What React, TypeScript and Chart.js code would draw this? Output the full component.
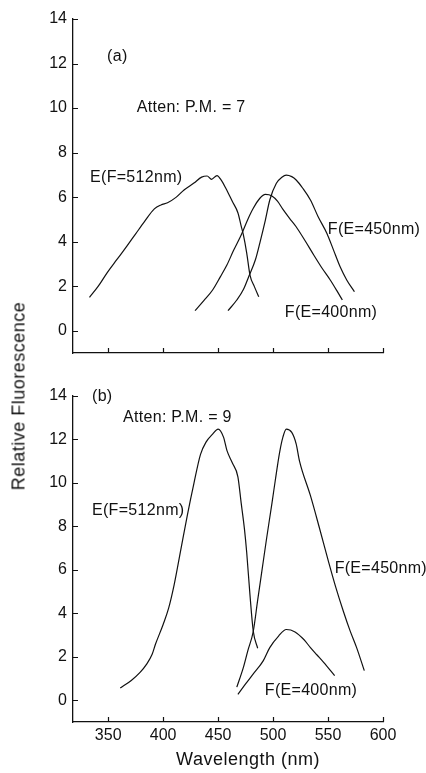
import React, { useEffect, useRef } from "react";
import { Chart, registerables } from "chart.js";
Chart.register(...registerables);

// ---------- Axis ticks ----------
const X_TICKS = [350, 400, 450, 500, 550, 600];
const Y_TICKS = [0, 2, 4, 6, 8, 10, 12, 14];

// ---------- Panel (a) ----------
const A_E512_NM = [333, 341, 349, 358, 367, 375, 383, 392, 398, 404, 412, 419, 428, 435, 440, 444, 449, 453, 457, 463, 468, 471, 473, 476, 479, 483, 487];
const A_E512_VAL = [1.5, 2.0, 2.6, 3.2, 3.8, 4.35, 4.9, 5.47, 5.65, 5.75, 6.0, 6.32, 6.63, 6.9, 6.95, 6.8, 6.97, 6.75, 6.4, 5.8, 5.3, 4.7, 4.3, 3.5, 2.5, 1.98, 1.53];

const A_F400_NM = [429, 437, 445, 452, 458, 464, 471, 477, 482, 488, 493, 499, 504, 509, 515, 521, 529, 537, 544, 552, 558, 563];
const A_F400_VAL = [0.9, 1.35, 1.83, 2.42, 2.95, 3.6, 4.3, 5.0, 5.5, 5.95, 6.12, 6.05, 5.82, 5.45, 5.05, 4.67, 4.05, 3.4, 2.85, 2.28, 1.8, 1.38];

const A_F450_NM = [459, 467, 473, 478, 484, 488, 493, 497, 503, 508, 512, 517, 521, 527, 534, 541, 549, 555, 561, 567, 574];
const A_F450_VAL = [0.9, 1.38, 1.85, 2.45, 3.2, 3.95, 4.97, 5.87, 6.62, 6.89, 6.99, 6.92, 6.77, 6.4, 5.87, 5.12, 4.37, 3.62, 2.87, 2.28, 1.75];

// ---------- Panel (b) ----------
const B_E512_NM = [361, 371, 379, 385, 390, 393, 400, 405, 410, 416, 422, 428, 434, 439, 445, 450, 455, 458, 463, 468, 471, 474, 476, 479, 482, 486];
const B_E512_VAL = [0.56, 0.91, 1.28, 1.66, 2.11, 2.57, 3.48, 4.23, 5.3, 6.9, 8.5, 9.97, 11.3, 11.86, 12.23, 12.46, 12.08, 11.48, 10.9, 10.27, 9.06, 7.85, 6.8, 4.83, 3.17, 2.39];

const B_F450_NM = [467, 473, 477, 482, 486, 490, 494, 499, 502, 506, 509, 512, 517, 521, 524, 534, 542, 550, 557, 564, 570, 576, 583];
const B_F450_VAL = [0.6, 1.51, 2.27, 3.17, 4.6, 6.0, 7.4, 9.06, 10.1, 11.4, 12.1, 12.46, 12.31, 11.78, 11.0, 9.4, 7.95, 6.45, 5.2, 4.08, 3.2, 2.42, 1.36];

const B_F400_NM = [468, 475, 482, 491, 497, 505, 512, 520, 528, 534, 540, 546, 556];
const B_F400_VAL = [0.27, 0.75, 1.21, 1.81, 2.42, 2.95, 3.25, 3.14, 2.79, 2.42, 2.08, 1.74, 1.13];

// ---------- Annotation texts (positions in data units) ----------
const A_LABELS = [
  { text: "(a)", x: 349, y: 12.3 },
  { text: "Atten: P.M. = 7", x: 376, y: 10.0 },
  { text: "E(F=512nm)", x: 333.5, y: 6.86 },
  { text: "F(E=450nm)", x: 549.8, y: 4.52 },
  { text: "F(E=400nm)", x: 510.7, y: 0.8 },
];
const B_LABELS = [
  { text: "(b)", x: 335.3, y: 13.96 },
  { text: "Atten: P.M. = 9", x: 363.5, y: 13.0 },
  { text: "E(F=512nm)", x: 335.3, y: 8.7 },
  { text: "F(E=450nm)", x: 556, y: 6.03 },
  { text: "F(E=400nm)", x: 492.5, y: 0.45 },
];

const FONT = '"Liberation Sans", Arial, Helvetica, sans-serif';
const INK = "#111";

function toPts(xs: number[], ys: number[]) {
  return xs.map((x, i) => ({ x, y: ys[i] }));
}

function lineDs(xs: number[], ys: number[]) {
  return {
    data: toPts(xs, ys),
    borderColor: INK,
    borderWidth: 1.2,
    pointRadius: 0,
    cubicInterpolationMode: "monotone",
    fill: false,
  };
}

type Label = { text: string; x: number; y: number };

function Panel(props: {
  width: number;
  height: number;
  top: number;
  padTop: number;
  axisHeight: number;
  showXLabels: boolean;
  series: { xs: number[]; ys: number[] }[];
  labels: Label[];
}) {
  const ref = useRef<HTMLCanvasElement | null>(null);
  useEffect(() => {
    const canvas = ref.current;
    if (!canvas) return;
    const labels = props.labels;
    const decor = {
      id: "decor",
      afterDraw(chart: any) {
        const { ctx, chartArea, scales } = chart;
        const xs = scales.x;
        const ys = scales.y;
        ctx.save();
        ctx.strokeStyle = INK;
        ctx.lineWidth = 1.2;
        ctx.beginPath();
        for (const v of Y_TICKS) {
          const py = Math.round(ys.getPixelForValue(v)) + 0.5;
          ctx.moveTo(chartArea.left, py);
          ctx.lineTo(chartArea.left + 5, py);
        }
        for (const v of X_TICKS) {
          const px = Math.round(xs.getPixelForValue(v)) + 0.5;
          ctx.moveTo(px, chartArea.bottom);
          ctx.lineTo(px, chartArea.bottom - 5);
        }
        ctx.stroke();
        ctx.fillStyle = INK;
        ctx.font = `16px ${FONT}`;
        (ctx as any).letterSpacing = "0.3px";
        ctx.textAlign = "left";
        ctx.textBaseline = "middle";
        for (const l of labels) {
          ctx.fillText(l.text, xs.getPixelForValue(l.x), ys.getPixelForValue(l.y));
        }
        (ctx as any).letterSpacing = "0px";
        ctx.restore();
      },
    };
    const chart = new Chart(canvas, {
      type: "line",
      data: {
        datasets: props.series.map((s) => lineDs(s.xs, s.ys)) as any,
      },
      options: {
        animation: false,
        responsive: false,
        layout: { padding: { left: 0, right: 43, top: props.padTop, bottom: 0 } },
        plugins: { legend: { display: false }, tooltip: { enabled: false } },
        scales: {
          x: {
            type: "linear",
            min: 318,
            max: 600,
            grid: { display: false, drawTicks: false },
            border: { display: true, color: INK, width: 1.3 },
            afterBuildTicks: (s: any) => {
              s.ticks = X_TICKS.map((v) => ({ value: v }));
            },
            afterFit: (s: any) => {
              s.height = props.axisHeight;
            },
            ticks: {
              display: props.showXLabels,
              color: INK,
              padding: 4,
              maxRotation: 0,
              font: { size: 16, family: FONT },
            },
          },
          y: {
            type: "linear",
            min: -1,
            max: 14,
            grid: { display: false, drawTicks: false },
            border: { display: true, color: INK, width: 1.3 },
            afterBuildTicks: (s: any) => {
              s.ticks = Y_TICKS.map((v) => ({ value: v }));
            },
            afterFit: (s: any) => {
              s.width = 73;
            },
            ticks: {
              color: INK,
              padding: 6,
              font: { size: 16, family: FONT },
            },
          },
        },
      } as any,
      plugins: [decor],
    });
    return () => chart.destroy();
  }, []);
  return (
    <canvas
      ref={ref}
      width={props.width}
      height={props.height}
      style={{ position: "absolute", left: 0, top: props.top, width: props.width, height: props.height }}
    />
  );
}

export default function App() {
  return (
    <div
      style={{
        position: "absolute",
        left: 0,
        top: 0,
        width: 426,
        height: 773,
        background: "#fff",
        overflow: "hidden",
        fontFamily: FONT,
        color: INK,
      }}
    >
      <Panel
        width={426}
        height={380}
        top={0}
        padTop={19}
        axisHeight={27}
        showXLabels={false}
        series={[
          { xs: A_E512_NM, ys: A_E512_VAL },
          { xs: A_F400_NM, ys: A_F400_VAL },
          { xs: A_F450_NM, ys: A_F450_VAL },
        ]}
        labels={A_LABELS}
      />
      <Panel
        width={426}
        height={393}
        top={380}
        padTop={11}
        axisHeight={51}
        showXLabels={true}
        series={[
          { xs: B_E512_NM, ys: B_E512_VAL },
          { xs: B_F450_NM, ys: B_F450_VAL },
          { xs: B_F400_NM, ys: B_F400_VAL },
        ]}
        labels={B_LABELS}
      />
      <div
        style={{
          position: "absolute",
          left: 19,
          top: 396,
          transform: "translate(-50%, -50%) rotate(-90deg)",
          whiteSpace: "nowrap",
          fontSize: 18,
          letterSpacing: 0.5,
        }}
      >
        Relative Fluorescence
      </div>
      <div
        style={{
          position: "absolute",
          left: 248,
          top: 759,
          transform: "translate(-50%, -50%)",
          whiteSpace: "nowrap",
          fontSize: 18,
          letterSpacing: 0.5,
        }}
      >
        Wavelength (nm)
      </div>
    </div>
  );
}
